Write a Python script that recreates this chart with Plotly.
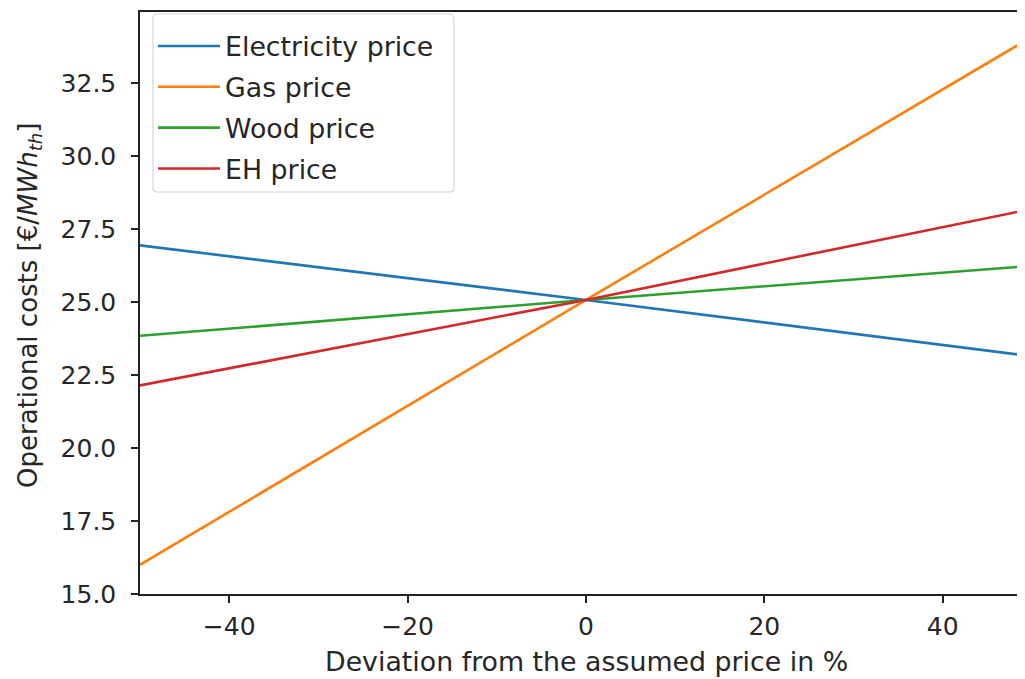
import plotly.graph_objects as go

deviation = [-50, 0, 50]
electricity = [26.95, 25.08, 23.15]
gas = [16.0, 25.08, 34.1]
wood = [23.85, 25.08, 26.25]
eh = [22.15, 25.08, 28.2]

series = [
    ("Electricity price", electricity, "#1f77b4"),
    ("Gas price", gas, "#ff7f0e"),
    ("Wood price", wood, "#2ca02c"),
    ("EH price", eh, "#d62728"),
]

fig = go.Figure()
for i, (name, vals, color) in enumerate(series):
    fig.add_trace(go.Scatter(x=deviation, y=vals, mode="lines", name=name,
                             legendgroup=f"g{i}",
                             line=dict(color=color, width=2.6)))

tick_font = dict(family="DejaVu Sans", size=25, color="#262626")
label_font = dict(family="DejaVu Sans", size=26.8, color="#262626")
ylabel_font = dict(family="DejaVu Sans", size=26, color="#262626")

# legend frame (rounded rectangle) in paper coordinates
x0, x1, y0, y1 = 0.0147, 0.3548, 0.6907, 0.9966
rx, ry = 0.0052, 0.0079
frame = (f"M{x0+rx},{y1} L{x1-rx},{y1} Q{x1},{y1} {x1},{y1-ry} "
         f"L{x1},{y0+ry} Q{x1},{y0} {x1-rx},{y0} L{x0+rx},{y0} "
         f"Q{x0},{y0} {x0},{y0+ry} L{x0},{y1-ry} Q{x0},{y1} {x0+rx},{y1} Z")

fig.update_layout(
    width=1017, height=671,
    margin=dict(l=132, r=0, t=4, b=85, autoexpand=False),
    paper_bgcolor="white", plot_bgcolor="white",
    font=label_font,
    showlegend=True,
    legend=dict(x=0.0147, y=0.9828, xanchor="left", yanchor="top",
                borderwidth=0, bgcolor="rgba(0,0,0,0)",
                font=label_font,
                itemwidth=62, traceorder="grouped", tracegroupgap=3),
    shapes=[dict(type="path", path=frame, xref="paper", yref="paper",
                 line=dict(color="#d5d5d5", width=1.2), fillcolor="rgba(255,255,255,0.85)",
                 layer="above")],
    xaxis=dict(range=[-50, 49.22], tickvals=[-40, -20, 0, 20, 40],
               showgrid=False, zeroline=False, showline=True, linecolor="#222",
               linewidth=1.5, mirror=True, ticks="outside", ticklen=7,
               tickcolor="#222", tickwidth=1.5, automargin=False,
               tickfont=tick_font, ticklabelstandoff=2),
    yaxis=dict(range=[15, 34.95], tick0=15, dtick=2.5, tickformat=".1f",
               showgrid=False, zeroline=False, showline=True, linecolor="#222",
               linewidth=1.5, mirror=False, ticks="outside", ticklen=7,
               tickcolor="#222", tickwidth=1.5, automargin=False,
               ticklabelstandoff=10, tickfont=tick_font),
    annotations=[
        dict(text="Deviation from the assumed price in %", xref="paper", yref="paper",
             x=0.504, y=-0.1168, xanchor="center", yanchor="middle",
             showarrow=False, font=label_font),
        dict(text="Operational costs [€/<i>MWh<sub>th</sub></i>]", xref="paper", yref="paper",
             x=-0.1243, y=0.4966, xanchor="center", yanchor="middle", textangle=-90,
             showarrow=False, font=ylabel_font),
    ],
)

fig.write_html("out.html")
